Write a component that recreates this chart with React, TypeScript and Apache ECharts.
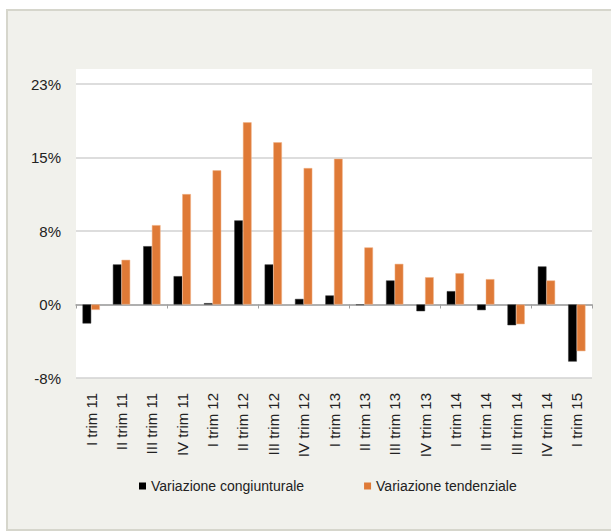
import React, { useEffect, useRef } from "react";
import * as echarts from "echarts";

const categories = [
  "I trim 11", "II trim 11", "III trim 11", "IV trim 11",
  "I trim 12", "II trim 12", "III trim 12", "IV trim 12",
  "I trim 13", "II trim 13", "III trim 13", "IV trim 13",
  "I trim 14", "II trim 14", "III trim 14", "IV trim 14",
  "I trim 15",
];
const congiunturale = [
  -1.98, 4.17, 6.07, 2.95, 0.14, 8.75, 4.17, 0.58,
  0.94, -0.05, 2.5, -0.7, 1.39, -0.59, -2.16, 3.96, -5.94,
];
const tendenziale = [
  -0.56, 4.65, 8.26, 11.49, 13.96, 18.96, 16.88, 14.2,
  15.17, 5.94, 4.23, 2.84, 3.26, 2.64, -2.05, 2.5, -4.86,
];
const seriesNames = ["Variazione congiunturale", "Variazione tendenziale"];
const yMin = -7.65;
const yMax = 22.95;
const yStep = 7.65;

export default function App() {
  const ref = useRef<HTMLDivElement>(null);
  useEffect(() => {
    if (!ref.current) return;
    const chart = echarts.init(ref.current, null, { renderer: "svg" });
    const font = "'Liberation Sans', Arial, sans-serif";
    chart.setOption({
      animation: false,
      backgroundColor: "#ffffff",
      textStyle: { fontFamily: font },
      graphic: [
        {
          type: "rect",
          z: -20,
          shape: { x: 7, y: 10, width: 620, height: 520 },
          style: { fill: "#f1f1ec", stroke: "#d6d6cc", lineWidth: 2 },
          silent: true,
        },
        {
          type: "rect",
          z: -19,
          shape: { x: 76, y: 69, width: 516, height: 309 },
          style: { fill: "#ffffff" },
          silent: true,
        },
      ],
      grid: { left: 76, right: 19, top: 84, bottom: 154, containLabel: false },
      legend: {
        data: seriesNames,
        left: 134,
        top: 474,
        itemWidth: 7,
        itemHeight: 7,
        itemGap: 60,
        icon: "rect",
        itemStyle: { borderWidth: 0 },
        textStyle: { fontSize: 14, color: "#222", fontFamily: font },
      },
      xAxis: [
        {
          type: "category",
          data: categories,
          position: "bottom",
          axisLine: { onZero: true, lineStyle: { color: "#a0a0a0", width: 1.5 } },
          axisTick: { show: true, length: 4, lineStyle: { color: "#a0a0a0" } },
          axisLabel: { show: false },
          splitLine: { show: false },
        },
        {
          type: "category",
          data: categories,
          position: "bottom",
          axisLine: { show: false, onZero: false },
          axisTick: { show: false },
          axisLabel: {
            show: true,
            rotate: 90,
            margin: 15,
            fontSize: 15,
            color: "#222",
            fontFamily: font,
          },
          splitLine: { show: false },
        },
      ],
      yAxis: {
        type: "value",
        min: yMin,
        max: yMax,
        interval: yStep,
        axisLine: { show: false },
        axisTick: { show: false },
        axisLabel: {
          fontSize: 15,
          margin: 15,
          color: "#222",
          fontFamily: font,
          formatter: (v: number) => Math.round(v) + "%",
        },
        splitLine: { lineStyle: { color: "#d2d2d2", width: 1.5 } },
      },
      series: [
        {
          name: seriesNames[0],
          type: "bar",
          xAxisIndex: 0,
          data: congiunturale,
          barGap: "0%",
          barCategoryGap: "43%",
          itemStyle: { color: "#000000", borderColor: "#3a3a3a", borderWidth: 0.5 },
        },
        {
          name: seriesNames[1],
          type: "bar",
          xAxisIndex: 0,
          data: tendenziale,
          barGap: "0%",
          barCategoryGap: "43%",
          itemStyle: { color: "#df7a37", borderColor: "#f0b48a", borderWidth: 0.5 },
        },
      ],
    });
    return () => chart.dispose();
  }, []);
  return (
    <div
      ref={ref}
      style={{ position: "absolute", left: 0, top: 0, width: 611, height: 532 }}
    />
  );
}
